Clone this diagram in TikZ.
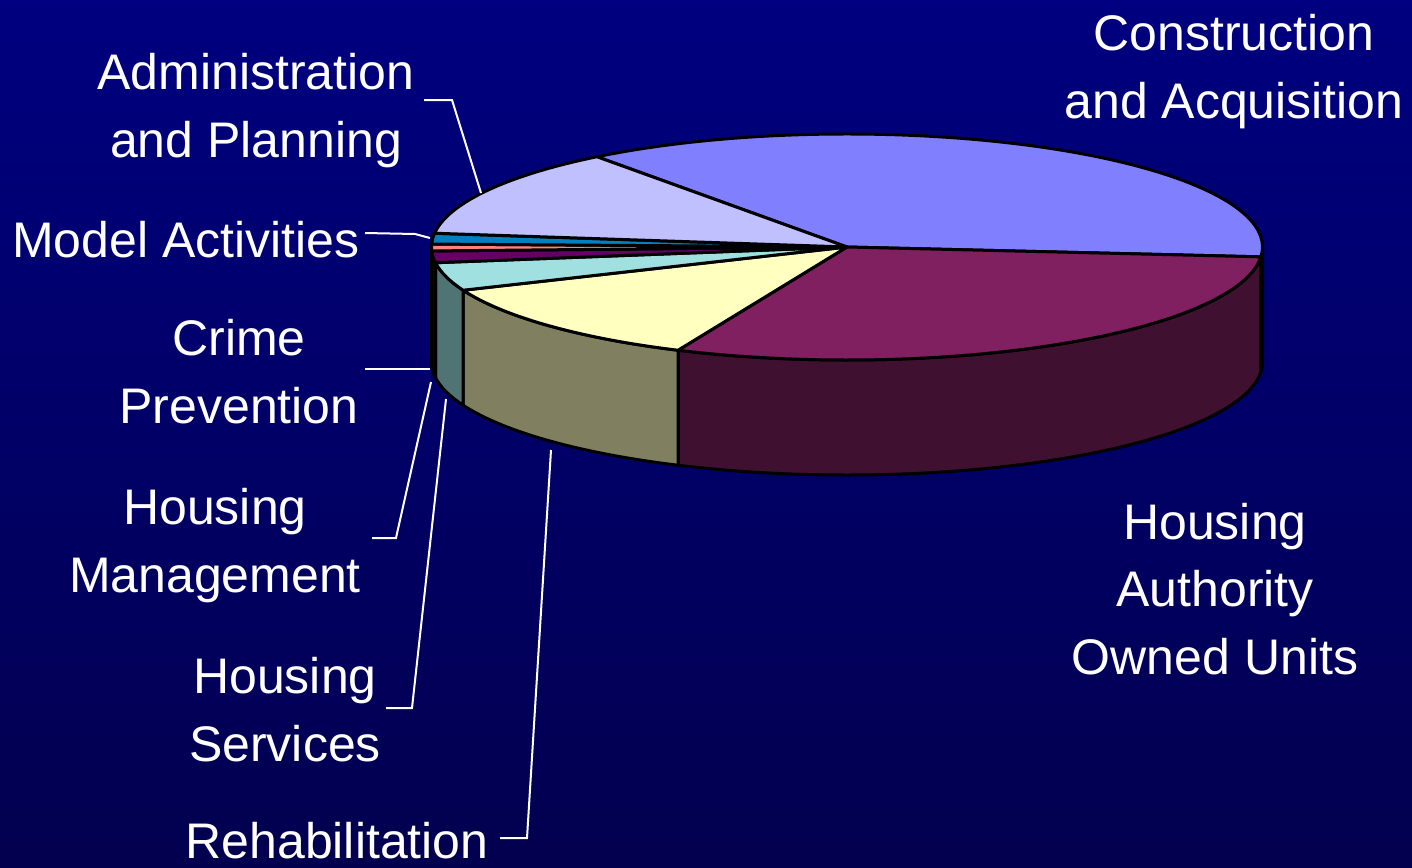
\documentclass[tikz,border=0pt]{standalone}
\usepackage{fontspec}
\setmainfont{Liberation Sans}
\definecolor{bgtop}{RGB}{0,0,128}
\definecolor{bgbot}{RGB}{2,0,78}
\definecolor{cConstr}{RGB}{128,128,255}
\definecolor{cConstrS}{RGB}{64,64,128}
\definecolor{cAdmin}{RGB}{192,192,255}
\definecolor{cModel}{RGB}{0,128,192}
\definecolor{cCrime}{RGB}{255,128,128}
\definecolor{cCrimeS}{RGB}{128,64,64}
\definecolor{cHM}{RGB}{102,0,102}
\definecolor{cHMS}{RGB}{51,0,51}
\definecolor{cHS}{RGB}{160,224,224}
\definecolor{cHSS}{RGB}{80,115,115}
\definecolor{cRehab}{RGB}{255,255,192}
\definecolor{cRehabS}{RGB}{128,128,96}
\definecolor{cHA}{RGB}{128,32,96}
\definecolor{cHAS}{RGB}{64,16,48}
\newcommand\mypieside[3]{%
  \filldraw[pieedge,fill=#3] (C) ++(#1:415.5 and 113)
    arc[start angle=#1,end angle=#2,x radius=415.5,y radius=113]
    -- ++(0,115)
    arc[start angle=#2,end angle=#1,x radius=415.5,y radius=113] -- cycle;}
\newcommand\mypietop[3]{%
  \filldraw[pieedge,fill=#3] (C) -- ++(#1:415.5 and 113)
    arc[start angle=#1,end angle=#2,x radius=415.5,y radius=113] -- cycle;}
\begin{document}
\begin{tikzpicture}[x=1pt,y=-1pt,
  pieedge/.style={draw=black,line width=3pt,line join=round},
  leader/.style={draw=white,line width=2pt},
  lbl/.style={text=white,font=\fontsize{50}{67.5}\selectfont,align=center,inner sep=0pt,anchor=base}]
\useasboundingbox (0,0) rectangle (1412,867);
\shade[top color=bgtop,bottom color=bgbot] (0,0) rectangle (1412,867);
\coordinate (C) at (847,247);
% sides (front half)
\mypieside{0}{5}{cConstrS}
\mypieside{5}{114}{cHAS}
\mypieside{114}{157.5}{cRehabS}
\mypieside{157.5}{172}{cHSS}
\mypieside{172}{178}{cHMS}
\mypieside{178}{180}{cCrimeS}
% tops
\mypietop{-127}{5}{cConstr}
\mypietop{5}{114}{cHA}
\mypietop{114}{157.5}{cRehab}
\mypietop{157.5}{172}{cHS}
\mypietop{172}{178}{cHM}
\mypietop{178}{181.5}{cCrime}
\mypietop{181.5}{187}{cModel}
\mypietop{187}{233}{cAdmin}
% labels (anchored at the baseline of the last line)
\node[lbl] (constr) at (1234,118) {Construction\\and Acquisition};
\node[lbl] (admin) at (256,157) {Administration\\and Planning};
\node[lbl] (model) at (186,257) {Model Activities};
\node[lbl] (crime) at (239,423) {Crime\\Prevention};
\node[lbl] (hmgmt) at (215,592) {Housing\\Management};
\node[lbl] (hserv) at (285,761) {Housing\\Services};
\node[lbl] (rehab) at (337,858) {Rehabilitation};
\node[lbl] (hauth) at (1215,674) {Housing\\Authority\\Owned Units};
% leader points
\coordinate (adminA) at (424,100);
\coordinate (adminB) at (452,100);
\coordinate (adminP) at (481,193);
\coordinate (modelA) at (365,233);
\coordinate (modelB) at (415,234);
\coordinate (modelP) at (430,238);
\coordinate (crimeA) at (365,369);
\coordinate (crimeP) at (430,369);
\coordinate (hmA) at (372,538);
\coordinate (hmB) at (396,538);
\coordinate (hmP) at (431,382);
\coordinate (hsA) at (386,708);
\coordinate (hsB) at (412,708);
\coordinate (hsP) at (446,399);
\coordinate (rhA) at (500,838);
\coordinate (rhB) at (527,838);
\coordinate (rhP) at (551,450);
\draw[leader] (adminA) -- (adminB) -- (adminP);
\draw[leader] (modelA) -- (modelB) -- (modelP);
\draw[leader] (crimeA) -- (crimeP);
\draw[leader] (hmA) -- (hmB) -- (hmP);
\draw[leader] (hsA) -- (hsB) -- (hsP);
\draw[leader] (rhA) -- (rhB) -- (rhP);
\end{tikzpicture}
\end{document}
